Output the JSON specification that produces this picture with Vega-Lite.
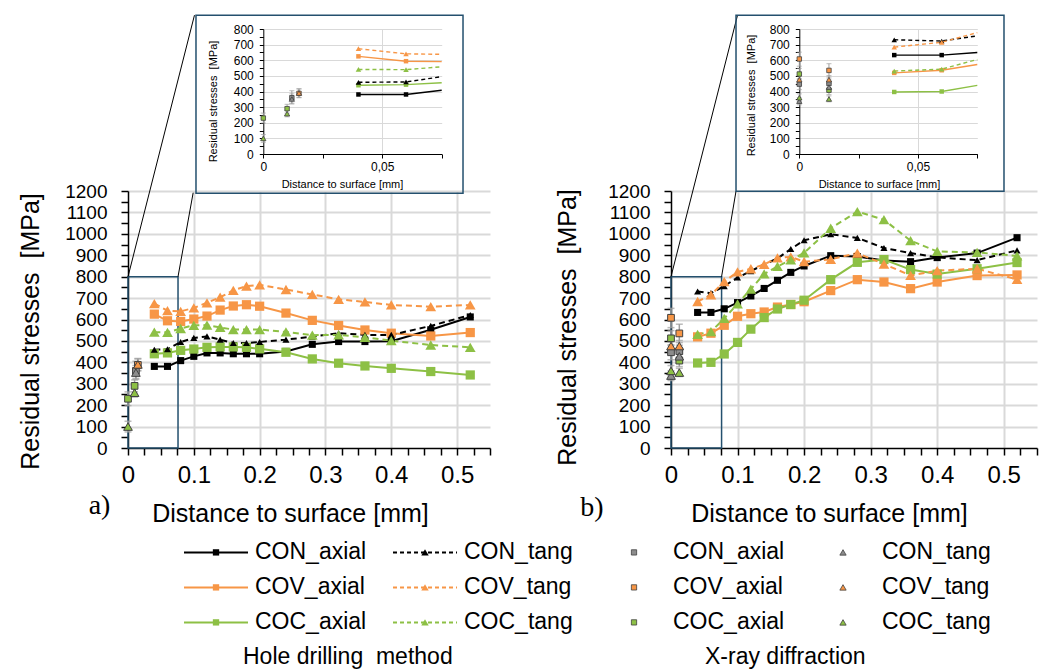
{
  "$schema": "https://vega.github.io/schema/vega-lite/v6.json",
  "background": "white",
  "padding": {"left": 17, "top": 14, "right": 6, "bottom": 0},
  "bounds": "flush",
  "spacing": 37,
  "config": {
    "view": {"stroke": null},
    "font": "Liberation Sans",
    "axis": {"labelFont": "Liberation Sans", "titleFont": "Liberation Sans", "labelColor": "#000000", "titleColor": "#000000", "titleFontWeight": "normal", "domainColor": "#000000", "tickColor": "#000000", "gridColor": "#d9d9d9", "labelOverlap": false, "labelBound": false}
  },
  "datasets": {
    "hdA": [
      {"mat":"CON","dir":"axial","d":0.04,"s":381},{"mat":"CON","dir":"axial","d":0.06,"s":381},{"mat":"CON","dir":"axial","d":0.08,"s":408},{"mat":"CON","dir":"axial","d":0.1,"s":428},{"mat":"CON","dir":"axial","d":0.12,"s":444},{"mat":"CON","dir":"axial","d":0.14,"s":444},{"mat":"CON","dir":"axial","d":0.16,"s":440},{"mat":"CON","dir":"axial","d":0.18,"s":440},{"mat":"CON","dir":"axial","d":0.2,"s":440},{"mat":"CON","dir":"axial","d":0.24,"s":451},{"mat":"CON","dir":"axial","d":0.28,"s":484},{"mat":"CON","dir":"axial","d":0.32,"s":497},{"mat":"CON","dir":"axial","d":0.36,"s":497},{"mat":"CON","dir":"axial","d":0.4,"s":499},{"mat":"CON","dir":"axial","d":0.46,"s":552},{"mat":"CON","dir":"axial","d":0.52,"s":612},
      {"mat":"CON","dir":"tang","d":0.04,"s":459},{"mat":"CON","dir":"tang","d":0.06,"s":461},{"mat":"CON","dir":"tang","d":0.08,"s":495},{"mat":"CON","dir":"tang","d":0.1,"s":514},{"mat":"CON","dir":"tang","d":0.12,"s":521},{"mat":"CON","dir":"tang","d":0.14,"s":506},{"mat":"CON","dir":"tang","d":0.16,"s":490},{"mat":"CON","dir":"tang","d":0.18,"s":490},{"mat":"CON","dir":"tang","d":0.2,"s":495},{"mat":"CON","dir":"tang","d":0.24,"s":506},{"mat":"CON","dir":"tang","d":0.28,"s":520},{"mat":"CON","dir":"tang","d":0.32,"s":536},{"mat":"CON","dir":"tang","d":0.36,"s":528},{"mat":"CON","dir":"tang","d":0.4,"s":528},{"mat":"CON","dir":"tang","d":0.46,"s":570},{"mat":"CON","dir":"tang","d":0.52,"s":621},
      {"mat":"COV","dir":"axial","d":0.04,"s":625},{"mat":"COV","dir":"axial","d":0.06,"s":594},{"mat":"COV","dir":"axial","d":0.08,"s":591},{"mat":"COV","dir":"axial","d":0.1,"s":602},{"mat":"COV","dir":"axial","d":0.12,"s":616},{"mat":"COV","dir":"axial","d":0.14,"s":644},{"mat":"COV","dir":"axial","d":0.16,"s":663},{"mat":"COV","dir":"axial","d":0.18,"s":669},{"mat":"COV","dir":"axial","d":0.2,"s":662},{"mat":"COV","dir":"axial","d":0.24,"s":630},{"mat":"COV","dir":"axial","d":0.28,"s":596},{"mat":"COV","dir":"axial","d":0.32,"s":572},{"mat":"COV","dir":"axial","d":0.36,"s":551},{"mat":"COV","dir":"axial","d":0.4,"s":536},{"mat":"COV","dir":"axial","d":0.46,"s":523},{"mat":"COV","dir":"axial","d":0.52,"s":539},
      {"mat":"COV","dir":"tang","d":0.04,"s":674},{"mat":"COV","dir":"tang","d":0.06,"s":641},{"mat":"COV","dir":"tang","d":0.08,"s":638},{"mat":"COV","dir":"tang","d":0.1,"s":654},{"mat":"COV","dir":"tang","d":0.12,"s":678},{"mat":"COV","dir":"tang","d":0.14,"s":704},{"mat":"COV","dir":"tang","d":0.16,"s":736},{"mat":"COV","dir":"tang","d":0.18,"s":756},{"mat":"COV","dir":"tang","d":0.2,"s":762},{"mat":"COV","dir":"tang","d":0.24,"s":740},{"mat":"COV","dir":"tang","d":0.28,"s":717},{"mat":"COV","dir":"tang","d":0.32,"s":694},{"mat":"COV","dir":"tang","d":0.36,"s":682},{"mat":"COV","dir":"tang","d":0.4,"s":668},{"mat":"COV","dir":"tang","d":0.46,"s":660},{"mat":"COV","dir":"tang","d":0.52,"s":668},
      {"mat":"COC","dir":"axial","d":0.04,"s":440},{"mat":"COC","dir":"axial","d":0.06,"s":444},{"mat":"COC","dir":"axial","d":0.08,"s":456},{"mat":"COC","dir":"axial","d":0.1,"s":462},{"mat":"COC","dir":"axial","d":0.12,"s":470},{"mat":"COC","dir":"axial","d":0.14,"s":472},{"mat":"COC","dir":"axial","d":0.16,"s":472},{"mat":"COC","dir":"axial","d":0.18,"s":470},{"mat":"COC","dir":"axial","d":0.2,"s":463},{"mat":"COC","dir":"axial","d":0.24,"s":447},{"mat":"COC","dir":"axial","d":0.28,"s":416},{"mat":"COC","dir":"axial","d":0.32,"s":396},{"mat":"COC","dir":"axial","d":0.36,"s":383},{"mat":"COC","dir":"axial","d":0.4,"s":372},{"mat":"COC","dir":"axial","d":0.46,"s":357},{"mat":"COC","dir":"axial","d":0.52,"s":341},
      {"mat":"COC","dir":"tang","d":0.04,"s":541},{"mat":"COC","dir":"tang","d":0.06,"s":540},{"mat":"COC","dir":"tang","d":0.08,"s":558},{"mat":"COC","dir":"tang","d":0.1,"s":573},{"mat":"COC","dir":"tang","d":0.12,"s":574},{"mat":"COC","dir":"tang","d":0.14,"s":563},{"mat":"COC","dir":"tang","d":0.16,"s":553},{"mat":"COC","dir":"tang","d":0.18,"s":553},{"mat":"COC","dir":"tang","d":0.2,"s":553},{"mat":"COC","dir":"tang","d":0.24,"s":542},{"mat":"COC","dir":"tang","d":0.28,"s":527},{"mat":"COC","dir":"tang","d":0.32,"s":528},{"mat":"COC","dir":"tang","d":0.36,"s":517},{"mat":"COC","dir":"tang","d":0.4,"s":501},{"mat":"COC","dir":"tang","d":0.46,"s":481},{"mat":"COC","dir":"tang","d":0.52,"s":470}
    ],
    "hdB": [
      {"mat":"CON","dir":"axial","d":0.04,"s":633},{"mat":"CON","dir":"axial","d":0.06,"s":633},{"mat":"CON","dir":"axial","d":0.08,"s":650},{"mat":"CON","dir":"axial","d":0.1,"s":679},{"mat":"CON","dir":"axial","d":0.12,"s":710},{"mat":"CON","dir":"axial","d":0.14,"s":745},{"mat":"CON","dir":"axial","d":0.16,"s":783},{"mat":"CON","dir":"axial","d":0.18,"s":820},{"mat":"CON","dir":"axial","d":0.2,"s":850},{"mat":"CON","dir":"axial","d":0.24,"s":898},{"mat":"CON","dir":"axial","d":0.28,"s":894},{"mat":"CON","dir":"axial","d":0.32,"s":876},{"mat":"CON","dir":"axial","d":0.36,"s":870},{"mat":"CON","dir":"axial","d":0.4,"s":889},{"mat":"CON","dir":"axial","d":0.46,"s":910},{"mat":"CON","dir":"axial","d":0.52,"s":982},
      {"mat":"CON","dir":"tang","d":0.04,"s":731},{"mat":"CON","dir":"tang","d":0.06,"s":723},{"mat":"CON","dir":"tang","d":0.08,"s":756},{"mat":"CON","dir":"tang","d":0.1,"s":796},{"mat":"CON","dir":"tang","d":0.12,"s":826},{"mat":"CON","dir":"tang","d":0.14,"s":857},{"mat":"CON","dir":"tang","d":0.16,"s":885},{"mat":"CON","dir":"tang","d":0.18,"s":929},{"mat":"CON","dir":"tang","d":0.2,"s":970},{"mat":"CON","dir":"tang","d":0.24,"s":998},{"mat":"CON","dir":"tang","d":0.28,"s":981},{"mat":"CON","dir":"tang","d":0.32,"s":934},{"mat":"CON","dir":"tang","d":0.36,"s":910},{"mat":"CON","dir":"tang","d":0.4,"s":890},{"mat":"CON","dir":"tang","d":0.46,"s":877},{"mat":"CON","dir":"tang","d":0.52,"s":923},
      {"mat":"COV","dir":"axial","d":0.04,"s":519},{"mat":"COV","dir":"axial","d":0.06,"s":536},{"mat":"COV","dir":"axial","d":0.08,"s":573},{"mat":"COV","dir":"axial","d":0.1,"s":615},{"mat":"COV","dir":"axial","d":0.12,"s":627},{"mat":"COV","dir":"axial","d":0.14,"s":635},{"mat":"COV","dir":"axial","d":0.16,"s":658},{"mat":"COV","dir":"axial","d":0.18,"s":670},{"mat":"COV","dir":"axial","d":0.2,"s":683},{"mat":"COV","dir":"axial","d":0.24,"s":735},{"mat":"COV","dir":"axial","d":0.28,"s":786},{"mat":"COV","dir":"axial","d":0.32,"s":775},{"mat":"COV","dir":"axial","d":0.36,"s":744},{"mat":"COV","dir":"axial","d":0.4,"s":775},{"mat":"COV","dir":"axial","d":0.46,"s":805},{"mat":"COV","dir":"axial","d":0.52,"s":808},
      {"mat":"COV","dir":"tang","d":0.04,"s":684},{"mat":"COV","dir":"tang","d":0.06,"s":715},{"mat":"COV","dir":"tang","d":0.08,"s":777},{"mat":"COV","dir":"tang","d":0.1,"s":822},{"mat":"COV","dir":"tang","d":0.12,"s":837},{"mat":"COV","dir":"tang","d":0.14,"s":857},{"mat":"COV","dir":"tang","d":0.16,"s":888},{"mat":"COV","dir":"tang","d":0.18,"s":892},{"mat":"COV","dir":"tang","d":0.2,"s":870},{"mat":"COV","dir":"tang","d":0.24,"s":881},{"mat":"COV","dir":"tang","d":0.28,"s":910},{"mat":"COV","dir":"tang","d":0.32,"s":859},{"mat":"COV","dir":"tang","d":0.36,"s":806},{"mat":"COV","dir":"tang","d":0.4,"s":828},{"mat":"COV","dir":"tang","d":0.46,"s":837},{"mat":"COV","dir":"tang","d":0.52,"s":787},
      {"mat":"COC","dir":"axial","d":0.04,"s":397},{"mat":"COC","dir":"axial","d":0.06,"s":400},{"mat":"COC","dir":"axial","d":0.08,"s":439},{"mat":"COC","dir":"axial","d":0.1,"s":493},{"mat":"COC","dir":"axial","d":0.12,"s":555},{"mat":"COC","dir":"axial","d":0.14,"s":609},{"mat":"COC","dir":"axial","d":0.16,"s":649},{"mat":"COC","dir":"axial","d":0.18,"s":670},{"mat":"COC","dir":"axial","d":0.2,"s":690},{"mat":"COC","dir":"axial","d":0.24,"s":786},{"mat":"COC","dir":"axial","d":0.28,"s":867},{"mat":"COC","dir":"axial","d":0.32,"s":880},{"mat":"COC","dir":"axial","d":0.36,"s":833},{"mat":"COC","dir":"axial","d":0.4,"s":812},{"mat":"COC","dir":"axial","d":0.46,"s":837},{"mat":"COC","dir":"axial","d":0.52,"s":866},
      {"mat":"COC","dir":"tang","d":0.04,"s":531},{"mat":"COC","dir":"tang","d":0.06,"s":543},{"mat":"COC","dir":"tang","d":0.08,"s":605},{"mat":"COC","dir":"tang","d":0.1,"s":673},{"mat":"COC","dir":"tang","d":0.12,"s":742},{"mat":"COC","dir":"tang","d":0.14,"s":813},{"mat":"COC","dir":"tang","d":0.16,"s":848},{"mat":"COC","dir":"tang","d":0.18,"s":878},{"mat":"COC","dir":"tang","d":0.2,"s":911},{"mat":"COC","dir":"tang","d":0.24,"s":1026},{"mat":"COC","dir":"tang","d":0.28,"s":1104},{"mat":"COC","dir":"tang","d":0.32,"s":1066},{"mat":"COC","dir":"tang","d":0.36,"s":968},{"mat":"COC","dir":"tang","d":0.4,"s":918},{"mat":"COC","dir":"tang","d":0.46,"s":913},{"mat":"COC","dir":"tang","d":0.52,"s":897}
    ],
    "xrA": [
      {"mat":"CON","dir":"axial","d":0.012,"s":360,"lo":320,"hi":405},
      {"mat":"CON","dir":"tang","d":0.012,"s":352,"lo":325,"hi":385},
      {"mat":"COC","dir":"axial","d":0,"s":230,"lo":198,"hi":262},
      {"mat":"COC","dir":"axial","d":0.01,"s":290,"lo":262,"hi":318},
      {"mat":"COC","dir":"tang","d":0,"s":100,"lo":75,"hi":125},
      {"mat":"COC","dir":"tang","d":0.01,"s":258,"lo":238,"hi":280},
      {"mat":"COV","dir":"axial","d":0.015,"s":388,"lo":360,"hi":416},
      {"mat":"COV","dir":"tang","d":0.015,"s":390,"lo":362,"hi":418}
    ],
    "xrB": [
      {"mat":"CON","dir":"axial","d":0,"s":447,"lo":412,"hi":482},
      {"mat":"CON","dir":"axial","d":0.0125,"s":452,"lo":425,"hi":480},
      {"mat":"CON","dir":"tang","d":0,"s":338,"lo":315,"hi":360},
      {"mat":"CON","dir":"tang","d":0.0125,"s":428,"lo":402,"hi":452},
      {"mat":"COV","dir":"axial","d":0,"s":608,"lo":562,"hi":652},
      {"mat":"COV","dir":"axial","d":0.0125,"s":535,"lo":492,"hi":578},
      {"mat":"COV","dir":"tang","d":0,"s":476,"lo":448,"hi":505},
      {"mat":"COV","dir":"tang","d":0.0125,"s":476,"lo":450,"hi":502},
      {"mat":"COC","dir":"axial","d":0,"s":512,"lo":478,"hi":548},
      {"mat":"COC","dir":"axial","d":0.0125,"s":408,"lo":380,"hi":438},
      {"mat":"COC","dir":"tang","d":0,"s":360,"lo":336,"hi":385},
      {"mat":"COC","dir":"tang","d":0.0125,"s":352,"lo":334,"hi":372}
    ],
    "leg": [
      {"mat":"CON","meth":"HD","dir":"axial","col":0,"row":0,"label":"CON_axial"},
      {"mat":"CON","meth":"HD","dir":"tang","col":1,"row":0,"label":"CON_tang"},
      {"mat":"CON","meth":"XR","dir":"axial","col":2,"row":0,"label":"CON_axial"},
      {"mat":"CON","meth":"XR","dir":"tang","col":3,"row":0,"label":"CON_tang"},
      {"mat":"COV","meth":"HD","dir":"axial","col":0,"row":1,"label":"COV_axial"},
      {"mat":"COV","meth":"HD","dir":"tang","col":1,"row":1,"label":"COV_tang"},
      {"mat":"COV","meth":"XR","dir":"axial","col":2,"row":1,"label":"COV_axial"},
      {"mat":"COV","meth":"XR","dir":"tang","col":3,"row":1,"label":"COV_tang"},
      {"mat":"COC","meth":"HD","dir":"axial","col":0,"row":2,"label":"COC_axial"},
      {"mat":"COC","meth":"HD","dir":"tang","col":1,"row":2,"label":"COC_tang"},
      {"mat":"COC","meth":"XR","dir":"axial","col":2,"row":2,"label":"COC_axial"},
      {"mat":"COC","meth":"XR","dir":"tang","col":3,"row":2,"label":"COC_tang"}
    ],
    "cap": [
      {"caption":"Hole drilling\u00a0 method","meth":"HD","col":0,"row":3},
      {"caption":"X-ray diffraction","meth":"XR","col":2,"row":3}
    ],
    "one": [{}]
  },
  "vconcat": [
    {
      "width": 909,
      "height": 125,
      "resolve": {"scale": {"x": "independent", "y": "independent"}, "axis": {"x": "independent", "y": "independent"}},
      "layer": [
        {
          "layer": [
            {
              "data": {"name": "xrA"},
              "mark": {"type": "rule", "color": "#9e9e9e", "strokeWidth": 1},
              "encoding": {
                "x": {"field": "d", "type": "quantitative", "scale": {"domain": [0, 0.075], "range": [135.3, 313.7], "clamp": true, "nice": false, "zero": false},
                  "axis": {"orient": "bottom", "values": [0, 0.025, 0.05, 0.075], "tickCount": 100, "labelExpr": "datum.value == 0 ? '0' : (abs(datum.value - 0.05) < 0.0001 ? '0,05' : '')", "labelFlush": false, "labelOverlap": false, "labelFontSize": 12, "labelPadding": 3, "tickSize": 4, "tickWidth": 1, "domainWidth": 1, "grid": true, "gridWidth": 1, "gridOpacity": {"condition": {"test": "abs(datum.value - 0.05) < 0.0001", "value": 1}, "value": 0}, "title": "Distance to surface [mm]", "titleFontSize": 11, "titleX": 214, "titleY": 30, "titleBaseline": "middle", "titleAlign": "center"}},
                "y": {"field": "lo", "type": "quantitative", "scale": {"domain": [0, 800], "nice": false, "zero": false},
                  "axis": {"orient": "left", "offset": -135.3, "values": [0,50,100,150,200,250,300,350,400,450,500,550,600,650,700,750,800], "tickCount": 100, "labelExpr": "datum.value % 100 == 0 ? format(datum.value, 'd') : ''", "labelOverlap": false, "labelFontSize": 12, "labelPadding": 6, "tickSize": 4, "tickWidth": 1, "domainWidth": 1, "grid": true, "gridWidth": 1, "gridOpacity": {"condition": {"test": "datum.value % 100 == 0 && datum.value > 0", "value": 1}, "value": 0}, "title": "Residual stresses\u00a0 [MPa]", "titleFontSize": 11, "titleAngle": 270, "titleX": -50, "titleY": 72, "titleBaseline": "middle", "titleAlign": "center"}},
                "y2": {"field": "hi"}
              }
            },
            {
              "data": {"name": "xrA"},
              "mark": {"type": "tick", "orient": "horizontal", "color": "#9e9e9e", "size": 5, "thickness": 1},
              "encoding": {"x": {"field": "d", "type": "quantitative"}, "y": {"field": "lo", "type": "quantitative"}}
            },
            {
              "data": {"name": "xrA"},
              "mark": {"type": "tick", "orient": "horizontal", "color": "#9e9e9e", "size": 5, "thickness": 1},
              "encoding": {"x": {"field": "d", "type": "quantitative"}, "y": {"field": "hi", "type": "quantitative"}}
            },
            {
              "data": {"name": "hdA"},
              "transform": [{"filter": "datum.dir == 'axial' && datum.d <= 0.081"}],
              "mark": {"type": "line", "strokeWidth": 1.4},
              "encoding": {"x": {"field": "d", "type": "quantitative"}, "y": {"field": "s", "type": "quantitative"},
                "color": {"field": "mat", "type": "nominal", "scale": {"domain": ["CON", "COV", "COC"], "range": ["#000000", "#F79646", "#8DC045"]}, "legend": null}}
            },
            {
              "data": {"name": "hdA"},
              "transform": [{"filter": "datum.dir == 'tang' && datum.d <= 0.081"}],
              "mark": {"type": "line", "strokeWidth": 1.4, "strokeDash": [4, 3]},
              "encoding": {"x": {"field": "d", "type": "quantitative"}, "y": {"field": "s", "type": "quantitative"},
                "color": {"field": "mat", "type": "nominal", "legend": null}}
            },
            {
              "data": {"name": "hdA"},
              "transform": [{"filter": "datum.dir == 'axial' && datum.d <= 0.075"}],
              "mark": {"type": "point", "shape": "square", "filled": true, "size": 20, "opacity": 1},
              "encoding": {"x": {"field": "d", "type": "quantitative"}, "y": {"field": "s", "type": "quantitative"},
                "color": {"field": "mat", "type": "nominal", "legend": null}}
            },
            {
              "data": {"name": "hdA"},
              "transform": [{"filter": "datum.dir == 'tang' && datum.d <= 0.075"}],
              "mark": {"type": "point", "shape": "triangle-up", "filled": true, "size": 30, "opacity": 1},
              "encoding": {"x": {"field": "d", "type": "quantitative"}, "y": {"field": "s", "type": "quantitative"},
                "color": {"field": "mat", "type": "nominal", "legend": null}}
            },
            {
              "data": {"name": "xrA"},
              "transform": [{"filter": "datum.dir == 'axial'"}],
              "mark": {"type": "point", "shape": "square", "filled": true, "size": 20, "opacity": 1, "stroke": "#404040", "strokeWidth": 0.8},
              "encoding": {"x": {"field": "d", "type": "quantitative"}, "y": {"field": "s", "type": "quantitative"},
                "fill": {"field": "mat", "type": "nominal", "scale": {"domain": ["CON", "COV", "COC"], "range": ["#8c8c8c", "#F79646", "#8DC045"]}, "legend": null}}
            },
            {
              "data": {"name": "xrA"},
              "transform": [{"filter": "datum.dir == 'tang'"}],
              "mark": {"type": "point", "shape": "triangle-up", "filled": true, "size": 28, "opacity": 1, "stroke": "#404040", "strokeWidth": 0.8},
              "encoding": {"x": {"field": "d", "type": "quantitative"}, "y": {"field": "s", "type": "quantitative"},
                "fill": {"field": "mat", "type": "nominal", "legend": null}}
            }
          ]
        },
        {
          "layer": [
            {
              "data": {"name": "xrB"},
              "mark": {"type": "rule", "color": "#9e9e9e", "strokeWidth": 1},
              "encoding": {
                "x": {"field": "d", "type": "quantitative", "scale": {"domain": [0, 0.075], "range": [671.3, 849.3], "clamp": true, "nice": false, "zero": false},
                  "axis": {"orient": "bottom", "values": [0, 0.025, 0.05, 0.075], "tickCount": 100, "labelExpr": "datum.value == 0 ? '0' : (abs(datum.value - 0.05) < 0.0001 ? '0,05' : '')", "labelFlush": false, "labelOverlap": false, "labelFontSize": 12, "labelPadding": 3, "tickSize": 4, "tickWidth": 1, "domainWidth": 1, "grid": true, "gridWidth": 1, "gridOpacity": {"condition": {"test": "abs(datum.value - 0.05) < 0.0001", "value": 1}, "value": 0}, "title": "Distance to surface [mm]", "titleFontSize": 11, "titleX": 751, "titleY": 30, "titleBaseline": "middle", "titleAlign": "center"}},
                "y": {"field": "lo", "type": "quantitative", "scale": {"domain": [0, 800], "nice": false, "zero": false},
                  "axis": {"orient": "left", "offset": -671.3, "values": [0,50,100,150,200,250,300,350,400,450,500,550,600,650,700,750,800], "tickCount": 100, "labelExpr": "datum.value % 100 == 0 ? format(datum.value, 'd') : ''", "labelOverlap": false, "labelFontSize": 12, "labelPadding": 6, "tickSize": 4, "tickWidth": 1, "domainWidth": 1, "grid": true, "gridWidth": 1, "gridOpacity": {"condition": {"test": "datum.value % 100 == 0 && datum.value > 0", "value": 1}, "value": 0}, "title": "Residual stresses\u00a0 [MPa]", "titleFontSize": 11, "titleAngle": 270, "titleX": -48, "titleY": 66, "titleBaseline": "middle", "titleAlign": "center"}},
                "y2": {"field": "hi"}
              }
            },
            {
              "data": {"name": "xrB"},
              "mark": {"type": "tick", "orient": "horizontal", "color": "#9e9e9e", "size": 5, "thickness": 1},
              "encoding": {"x": {"field": "d", "type": "quantitative"}, "y": {"field": "lo", "type": "quantitative"}}
            },
            {
              "data": {"name": "xrB"},
              "mark": {"type": "tick", "orient": "horizontal", "color": "#9e9e9e", "size": 5, "thickness": 1},
              "encoding": {"x": {"field": "d", "type": "quantitative"}, "y": {"field": "hi", "type": "quantitative"}}
            },
            {
              "data": {"name": "hdB"},
              "transform": [{"filter": "datum.dir == 'axial' && datum.d <= 0.081"}],
              "mark": {"type": "line", "strokeWidth": 1.4},
              "encoding": {"x": {"field": "d", "type": "quantitative"}, "y": {"field": "s", "type": "quantitative"},
                "color": {"field": "mat", "type": "nominal", "legend": null}}
            },
            {
              "data": {"name": "hdB"},
              "transform": [{"filter": "datum.dir == 'tang' && datum.d <= 0.081"}],
              "mark": {"type": "line", "strokeWidth": 1.4, "strokeDash": [4, 3]},
              "encoding": {"x": {"field": "d", "type": "quantitative"}, "y": {"field": "s", "type": "quantitative"},
                "color": {"field": "mat", "type": "nominal", "legend": null}}
            },
            {
              "data": {"name": "hdB"},
              "transform": [{"filter": "datum.dir == 'axial' && datum.d <= 0.075"}],
              "mark": {"type": "point", "shape": "square", "filled": true, "size": 20, "opacity": 1},
              "encoding": {"x": {"field": "d", "type": "quantitative"}, "y": {"field": "s", "type": "quantitative"},
                "color": {"field": "mat", "type": "nominal", "legend": null}}
            },
            {
              "data": {"name": "hdB"},
              "transform": [{"filter": "datum.dir == 'tang' && datum.d <= 0.075"}],
              "mark": {"type": "point", "shape": "triangle-up", "filled": true, "size": 30, "opacity": 1},
              "encoding": {"x": {"field": "d", "type": "quantitative"}, "y": {"field": "s", "type": "quantitative"},
                "color": {"field": "mat", "type": "nominal", "legend": null}}
            },
            {
              "data": {"name": "xrB"},
              "transform": [{"filter": "datum.dir == 'axial'"}],
              "mark": {"type": "point", "shape": "square", "filled": true, "size": 20, "opacity": 1, "stroke": "#404040", "strokeWidth": 0.8},
              "encoding": {"x": {"field": "d", "type": "quantitative"}, "y": {"field": "s", "type": "quantitative"},
                "fill": {"field": "mat", "type": "nominal", "legend": null}}
            },
            {
              "data": {"name": "xrB"},
              "transform": [{"filter": "datum.dir == 'tang'"}],
              "mark": {"type": "point", "shape": "triangle-up", "filled": true, "size": 28, "opacity": 1, "stroke": "#404040", "strokeWidth": 0.8},
              "encoding": {"x": {"field": "d", "type": "quantitative"}, "y": {"field": "s", "type": "quantitative"},
                "fill": {"field": "mat", "type": "nominal", "legend": null}}
            }
          ]
        }
      ]
    },
    {
      "width": 909,
      "height": 257,
      "resolve": {"scale": {"x": "independent", "y": "independent"}, "axis": {"x": "independent", "y": "independent"}},
      "layer": [
        {
          "layer": [
            {
              "data": {"name": "hdA"},
              "transform": [{"filter": "datum.dir == 'axial'"}],
              "mark": {"type": "line", "strokeWidth": 2},
              "encoding": {
                "x": {"field": "d", "type": "quantitative", "scale": {"domain": [0, 0.55], "range": [0, 362], "nice": false, "zero": false},
                  "axis": {"orient": "bottom", "values": [0,0.025,0.05,0.075,0.1,0.125,0.15,0.175,0.2,0.225,0.25,0.275,0.3,0.325,0.35,0.375,0.4,0.425,0.45,0.475,0.5,0.525,0.55], "tickCount": 100, "labelExpr": "abs(datum.value * 10 - round(datum.value * 10)) < 0.001 ? format(datum.value, '.1~f') : ''", "labelFlush": false, "labelOverlap": false, "labelFontSize": 24, "labelPadding": 8, "tickSize": 7, "tickWidth": 1.5, "domainWidth": 1.5, "grid": true, "gridWidth": 2, "gridOpacity": {"condition": {"test": "abs(datum.value * 10 - round(datum.value * 10)) < 0.001 && datum.value > 0", "value": 1}, "value": 0}, "title": "Distance to surface [mm]", "titleFontSize": 25, "titleX": 162, "titleY": 65, "titleBaseline": "middle", "titleAlign": "center"}},
                "y": {"field": "s", "type": "quantitative", "scale": {"domain": [0, 1200], "nice": false, "zero": false},
                  "axis": {"orient": "left", "values": [0,50,100,150,200,250,300,350,400,450,500,550,600,650,700,750,800,850,900,950,1000,1050,1100,1150,1200], "tickCount": 100, "labelExpr": "datum.value % 100 == 0 ? format(datum.value, 'd') : ''", "labelOverlap": false, "labelFontSize": 19, "labelPadding": 14, "tickSize": 7, "tickWidth": 1.5, "domainWidth": 1.5, "grid": true, "gridWidth": 2, "gridOpacity": {"condition": {"test": "datum.value % 100 == 0 && datum.value > 0", "value": 1}, "value": 0}, "title": "Residual stresses\u00a0 [MPa]", "titleFontSize": 25, "titleAngle": 270, "titleX": -98, "titleY": 140, "titleBaseline": "middle", "titleAlign": "center"}},
                "color": {"field": "mat", "type": "nominal", "legend": null}
              }
            },
            {
              "data": {"name": "one"},
              "mark": {"type": "rect", "fill": null, "stroke": "#24506e", "strokeWidth": 1.5},
              "encoding": {"x": {"datum": 0, "type": "quantitative"}, "x2": {"datum": 0.076}, "y": {"datum": 0, "type": "quantitative"}, "y2": {"datum": 800}}
            },
            {
              "data": {"name": "one"},
              "mark": {"type": "rule", "color": "#000000", "strokeWidth": 1},
              "encoding": {"x": {"datum": 0, "type": "quantitative"}, "x2": {"datum": 0.101}, "y": {"datum": 800, "type": "quantitative"}, "y2": {"datum": 2021}}
            },
            {
              "data": {"name": "one"},
              "mark": {"type": "rule", "color": "#000000", "strokeWidth": 1},
              "encoding": {"x": {"datum": 0.076, "type": "quantitative"}, "x2": {"datum": 0.099}, "y": {"datum": 800, "type": "quantitative"}, "y2": {"datum": 1192}}
            },
            {
              "data": {"name": "one"},
              "mark": {"type": "rect", "fill": null, "stroke": "#24506e", "strokeWidth": 1.5},
              "encoding": {"x": {"datum": 0.1033, "type": "quantitative"}, "x2": {"datum": 0.509}, "y": {"datum": 1190, "type": "quantitative"}, "y2": {"datum": 2021}}
            },
            {
              "data": {"name": "xrA"},
              "mark": {"type": "rule", "color": "#9e9e9e", "strokeWidth": 1.5},
              "encoding": {"x": {"field": "d", "type": "quantitative"}, "y": {"field": "lo", "type": "quantitative"}, "y2": {"field": "hi"}}
            },
            {
              "data": {"name": "xrA"},
              "mark": {"type": "tick", "orient": "horizontal", "color": "#9e9e9e", "size": 7, "thickness": 1.5},
              "encoding": {"x": {"field": "d", "type": "quantitative"}, "y": {"field": "lo", "type": "quantitative"}}
            },
            {
              "data": {"name": "xrA"},
              "mark": {"type": "tick", "orient": "horizontal", "color": "#9e9e9e", "size": 7, "thickness": 1.5},
              "encoding": {"x": {"field": "d", "type": "quantitative"}, "y": {"field": "hi", "type": "quantitative"}}
            },
            {
              "data": {"name": "hdA"},
              "transform": [{"filter": "datum.dir == 'tang'"}],
              "mark": {"type": "line", "strokeWidth": 2, "strokeDash": [6, 4]},
              "encoding": {"x": {"field": "d", "type": "quantitative"}, "y": {"field": "s", "type": "quantitative"}, "color": {"field": "mat", "type": "nominal", "legend": null}}
            },
            {
              "data": {"name": "hdA"},
              "transform": [{"filter": "datum.dir == 'axial' && datum.mat == 'CON'"}],
              "mark": {"type": "point", "shape": "square", "filled": true, "size": 50, "opacity": 1},
              "encoding": {"x": {"field": "d", "type": "quantitative"}, "y": {"field": "s", "type": "quantitative"}, "color": {"field": "mat", "type": "nominal", "legend": null}}
            },
            {
              "data": {"name": "hdA"},
              "transform": [{"filter": "datum.dir == 'axial' && datum.mat != 'CON'"}],
              "mark": {"type": "point", "shape": "square", "filled": true, "size": 85, "opacity": 1},
              "encoding": {"x": {"field": "d", "type": "quantitative"}, "y": {"field": "s", "type": "quantitative"}, "color": {"field": "mat", "type": "nominal", "legend": null}}
            },
            {
              "data": {"name": "hdA"},
              "transform": [{"filter": "datum.dir == 'tang' && datum.mat == 'CON'"}],
              "mark": {"type": "point", "shape": "triangle-up", "filled": true, "size": 50, "opacity": 1},
              "encoding": {"x": {"field": "d", "type": "quantitative"}, "y": {"field": "s", "type": "quantitative"}, "color": {"field": "mat", "type": "nominal", "legend": null}}
            },
            {
              "data": {"name": "hdA"},
              "transform": [{"filter": "datum.dir == 'tang' && datum.mat != 'CON'"}],
              "mark": {"type": "point", "shape": "triangle-up", "filled": true, "size": 115, "opacity": 1},
              "encoding": {"x": {"field": "d", "type": "quantitative"}, "y": {"field": "s", "type": "quantitative"}, "color": {"field": "mat", "type": "nominal", "legend": null}}
            },
            {
              "data": {"name": "xrA"},
              "transform": [{"filter": "datum.dir == 'axial'"}],
              "mark": {"type": "point", "shape": "square", "filled": true, "size": 45, "opacity": 1, "stroke": "#404040", "strokeWidth": 1},
              "encoding": {"x": {"field": "d", "type": "quantitative"}, "y": {"field": "s", "type": "quantitative"}, "fill": {"field": "mat", "type": "nominal", "legend": null}}
            },
            {
              "data": {"name": "xrA"},
              "transform": [{"filter": "datum.dir == 'tang'"}],
              "mark": {"type": "point", "shape": "triangle-up", "filled": true, "size": 75, "opacity": 1, "stroke": "#404040", "strokeWidth": 1},
              "encoding": {"x": {"field": "d", "type": "quantitative"}, "y": {"field": "s", "type": "quantitative"}, "fill": {"field": "mat", "type": "nominal", "legend": null}}
            },
            {
              "data": {"name": "one"},
              "mark": {"type": "text", "text": "a)", "font": "Liberation Serif", "fontSize": 28, "align": "center", "baseline": "middle", "color": "#000000"},
              "encoding": {"x": {"datum": -0.0433, "type": "quantitative"}, "y": {"datum": -271, "type": "quantitative"}}
            }
          ]
        },
        {
          "layer": [
            {
              "data": {"name": "hdB"},
              "transform": [{"filter": "datum.dir == 'axial'"}],
              "mark": {"type": "line", "strokeWidth": 2},
              "encoding": {
                "x": {"field": "d", "type": "quantitative", "scale": {"domain": [0, 0.55], "range": [543, 909], "nice": false, "zero": false},
                  "axis": {"orient": "bottom", "values": [0,0.025,0.05,0.075,0.1,0.125,0.15,0.175,0.2,0.225,0.25,0.275,0.3,0.325,0.35,0.375,0.4,0.425,0.45,0.475,0.5,0.525,0.55], "tickCount": 100, "labelExpr": "abs(datum.value * 10 - round(datum.value * 10)) < 0.001 ? format(datum.value, '.1~f') : ''", "labelFlush": false, "labelOverlap": false, "labelFontSize": 24, "labelPadding": 8, "tickSize": 7, "tickWidth": 1.5, "domainWidth": 1.5, "grid": true, "gridWidth": 2, "gridOpacity": {"condition": {"test": "abs(datum.value * 10 - round(datum.value * 10)) < 0.001 && datum.value > 0", "value": 1}, "value": 0}, "title": "Distance to surface [mm]", "titleFontSize": 25, "titleX": 701, "titleY": 65, "titleBaseline": "middle", "titleAlign": "center"}},
                "y": {"field": "s", "type": "quantitative", "scale": {"domain": [0, 1200], "nice": false, "zero": false},
                  "axis": {"orient": "left", "offset": -543, "values": [0,50,100,150,200,250,300,350,400,450,500,550,600,650,700,750,800,850,900,950,1000,1050,1100,1150,1200], "tickCount": 100, "labelExpr": "datum.value % 100 == 0 ? format(datum.value, 'd') : ''", "labelOverlap": false, "labelFontSize": 19, "labelPadding": 14, "tickSize": 7, "tickWidth": 1.5, "domainWidth": 1.5, "grid": true, "gridWidth": 2, "gridOpacity": {"condition": {"test": "datum.value % 100 == 0 && datum.value > 0", "value": 1}, "value": 0}, "title": "Residual stresses\u00a0 [MPa]", "titleFontSize": 25, "titleAngle": 270, "titleX": -104, "titleY": 136, "titleBaseline": "middle", "titleAlign": "center"}},
                "color": {"field": "mat", "type": "nominal", "legend": null}
              }
            },
            {
              "data": {"name": "one"},
              "mark": {"type": "rect", "fill": null, "stroke": "#24506e", "strokeWidth": 1.5},
              "encoding": {"x": {"datum": 0, "type": "quantitative"}, "x2": {"datum": 0.076}, "y": {"datum": 0, "type": "quantitative"}, "y2": {"datum": 800}}
            },
            {
              "data": {"name": "one"},
              "mark": {"type": "rule", "color": "#000000", "strokeWidth": 1},
              "encoding": {"x": {"datum": 0, "type": "quantitative"}, "x2": {"datum": 0.1}, "y": {"datum": 800, "type": "quantitative"}, "y2": {"datum": 2021}}
            },
            {
              "data": {"name": "one"},
              "mark": {"type": "rule", "color": "#000000", "strokeWidth": 1},
              "encoding": {"x": {"datum": 0.076, "type": "quantitative"}, "x2": {"datum": 0.0977}, "y": {"datum": 800, "type": "quantitative"}, "y2": {"datum": 1199}}
            },
            {
              "data": {"name": "one"},
              "mark": {"type": "rect", "fill": null, "stroke": "#24506e", "strokeWidth": 1.5},
              "encoding": {"x": {"datum": 0.0977, "type": "quantitative"}, "x2": {"datum": 0.5004}, "y": {"datum": 1199, "type": "quantitative"}, "y2": {"datum": 2021}}
            },
            {
              "data": {"name": "xrB"},
              "mark": {"type": "rule", "color": "#9e9e9e", "strokeWidth": 1.5},
              "encoding": {"x": {"field": "d", "type": "quantitative"}, "y": {"field": "lo", "type": "quantitative"}, "y2": {"field": "hi"}}
            },
            {
              "data": {"name": "xrB"},
              "mark": {"type": "tick", "orient": "horizontal", "color": "#9e9e9e", "size": 7, "thickness": 1.5},
              "encoding": {"x": {"field": "d", "type": "quantitative"}, "y": {"field": "lo", "type": "quantitative"}}
            },
            {
              "data": {"name": "xrB"},
              "mark": {"type": "tick", "orient": "horizontal", "color": "#9e9e9e", "size": 7, "thickness": 1.5},
              "encoding": {"x": {"field": "d", "type": "quantitative"}, "y": {"field": "hi", "type": "quantitative"}}
            },
            {
              "data": {"name": "hdB"},
              "transform": [{"filter": "datum.dir == 'tang'"}],
              "mark": {"type": "line", "strokeWidth": 2, "strokeDash": [6, 4]},
              "encoding": {"x": {"field": "d", "type": "quantitative"}, "y": {"field": "s", "type": "quantitative"}, "color": {"field": "mat", "type": "nominal", "legend": null}}
            },
            {
              "data": {"name": "hdB"},
              "transform": [{"filter": "datum.dir == 'axial' && datum.mat == 'CON'"}],
              "mark": {"type": "point", "shape": "square", "filled": true, "size": 50, "opacity": 1},
              "encoding": {"x": {"field": "d", "type": "quantitative"}, "y": {"field": "s", "type": "quantitative"}, "color": {"field": "mat", "type": "nominal", "legend": null}}
            },
            {
              "data": {"name": "hdB"},
              "transform": [{"filter": "datum.dir == 'axial' && datum.mat != 'CON'"}],
              "mark": {"type": "point", "shape": "square", "filled": true, "size": 85, "opacity": 1},
              "encoding": {"x": {"field": "d", "type": "quantitative"}, "y": {"field": "s", "type": "quantitative"}, "color": {"field": "mat", "type": "nominal", "legend": null}}
            },
            {
              "data": {"name": "hdB"},
              "transform": [{"filter": "datum.dir == 'tang' && datum.mat == 'CON'"}],
              "mark": {"type": "point", "shape": "triangle-up", "filled": true, "size": 50, "opacity": 1},
              "encoding": {"x": {"field": "d", "type": "quantitative"}, "y": {"field": "s", "type": "quantitative"}, "color": {"field": "mat", "type": "nominal", "legend": null}}
            },
            {
              "data": {"name": "hdB"},
              "transform": [{"filter": "datum.dir == 'tang' && datum.mat != 'CON'"}],
              "mark": {"type": "point", "shape": "triangle-up", "filled": true, "size": 115, "opacity": 1},
              "encoding": {"x": {"field": "d", "type": "quantitative"}, "y": {"field": "s", "type": "quantitative"}, "color": {"field": "mat", "type": "nominal", "legend": null}}
            },
            {
              "data": {"name": "xrB"},
              "transform": [{"filter": "datum.dir == 'axial'"}],
              "mark": {"type": "point", "shape": "square", "filled": true, "size": 45, "opacity": 1, "stroke": "#404040", "strokeWidth": 1},
              "encoding": {"x": {"field": "d", "type": "quantitative"}, "y": {"field": "s", "type": "quantitative"}, "fill": {"field": "mat", "type": "nominal", "legend": null}}
            },
            {
              "data": {"name": "xrB"},
              "transform": [{"filter": "datum.dir == 'tang'"}],
              "mark": {"type": "point", "shape": "triangle-up", "filled": true, "size": 75, "opacity": 1, "stroke": "#404040", "strokeWidth": 1},
              "encoding": {"x": {"field": "d", "type": "quantitative"}, "y": {"field": "s", "type": "quantitative"}, "fill": {"field": "mat", "type": "nominal", "legend": null}}
            },
            {
              "data": {"name": "one"},
              "mark": {"type": "text", "text": "b)", "font": "Liberation Serif", "fontSize": 28, "align": "center", "baseline": "middle", "color": "#000000"},
              "encoding": {"x": {"datum": -0.1187, "type": "quantitative"}, "y": {"datum": -280, "type": "quantitative"}}
            }
          ]
        }
      ]
    },
    {
      "width": 909,
      "height": 186,
      "encoding": {
        "x": {"field": "col", "type": "quantitative", "scale": {"domain": [-0.4211, 3.9282], "nice": false, "zero": false}, "axis": null},
        "y": {"field": "row", "type": "quantitative", "scale": {"domain": [-1.926, 3.389], "nice": false, "zero": false, "reverse": true}, "axis": null}
      },
      "layer": [
        {
          "data": {"name": "one"},
          "mark": {"type": "rule", "color": "#000000", "strokeWidth": 1.5},
          "encoding": {"x": {"datum": -0.244, "type": "quantitative", "axis": null}, "x2": {"datum": 3.775}, "y": {"datum": -0.543, "type": "quantitative", "axis": null}}
        },
        {
          "data": {"name": "one"},
          "mark": {"type": "rule", "color": "#000000", "strokeWidth": 1.5},
          "encoding": {"x": {"datum": -0.244, "type": "quantitative", "axis": null}, "y": {"datum": -0.543, "type": "quantitative", "axis": null}, "y2": {"datum": 3.38}}
        },
        {
          "data": {"name": "one"},
          "mark": {"type": "rule", "color": "#000000", "strokeWidth": 1.5},
          "encoding": {"x": {"datum": 3.775, "type": "quantitative", "axis": null}, "y": {"datum": -0.543, "type": "quantitative", "axis": null}, "y2": {"datum": 3.38}}
        },
        {
          "data": {"name": "leg"},
          "transform": [{"filter": "datum.meth == 'HD'"}],
          "mark": {"type": "rule", "strokeWidth": 2, "xOffset": -32, "x2Offset": 32},
          "encoding": {
            "x2": {"field": "col"},
            "color": {"field": "mat", "type": "nominal", "legend": null},
            "strokeDash": {"field": "dir", "type": "nominal", "scale": {"domain": ["axial", "tang"], "range": [[1, 0], [4, 3]]}, "legend": null}
          }
        },
        {
          "data": {"name": "leg"},
          "transform": [{"filter": "datum.meth == 'HD' && datum.dir == 'axial'"}],
          "mark": {"type": "point", "shape": "square", "filled": true, "size": 40, "opacity": 1},
          "encoding": {"color": {"field": "mat", "type": "nominal", "legend": null}}
        },
        {
          "data": {"name": "leg"},
          "transform": [{"filter": "datum.meth == 'HD' && datum.dir == 'tang'"}],
          "mark": {"type": "point", "shape": "triangle-up", "filled": true, "size": 55, "opacity": 1},
          "encoding": {"color": {"field": "mat", "type": "nominal", "legend": null}}
        },
        {
          "data": {"name": "leg"},
          "transform": [{"filter": "datum.meth == 'XR' && datum.dir == 'axial'"}],
          "mark": {"type": "point", "shape": "square", "filled": true, "size": 28, "opacity": 1, "stroke": "#404040", "strokeWidth": 0.8},
          "encoding": {"fill": {"field": "mat", "type": "nominal", "legend": null}}
        },
        {
          "data": {"name": "leg"},
          "transform": [{"filter": "datum.meth == 'XR' && datum.dir == 'tang'"}],
          "mark": {"type": "point", "shape": "triangle-up", "filled": true, "size": 40, "opacity": 1, "stroke": "#404040", "strokeWidth": 0.8},
          "encoding": {"fill": {"field": "mat", "type": "nominal", "legend": null}}
        },
        {
          "data": {"name": "leg"},
          "mark": {"type": "text", "align": "left", "baseline": "middle", "dx": 39, "fontSize": 23, "font": "Liberation Sans", "color": "#000000"},
          "encoding": {"text": {"field": "label"}}
        },
        {
          "data": {"name": "cap"},
          "transform": [{"filter": "datum.meth == 'HD'"}],
          "mark": {"type": "text", "align": "left", "baseline": "middle", "dx": 27, "fontSize": 23, "font": "Liberation Sans", "color": "#000000"},
          "encoding": {"text": {"field": "caption"}}
        },
        {
          "data": {"name": "cap"},
          "transform": [{"filter": "datum.meth == 'XR'"}],
          "mark": {"type": "text", "align": "left", "baseline": "middle", "dx": 71, "fontSize": 23, "font": "Liberation Sans", "color": "#000000"},
          "encoding": {"text": {"field": "caption"}}
        }
      ]
    }
  ]
}
